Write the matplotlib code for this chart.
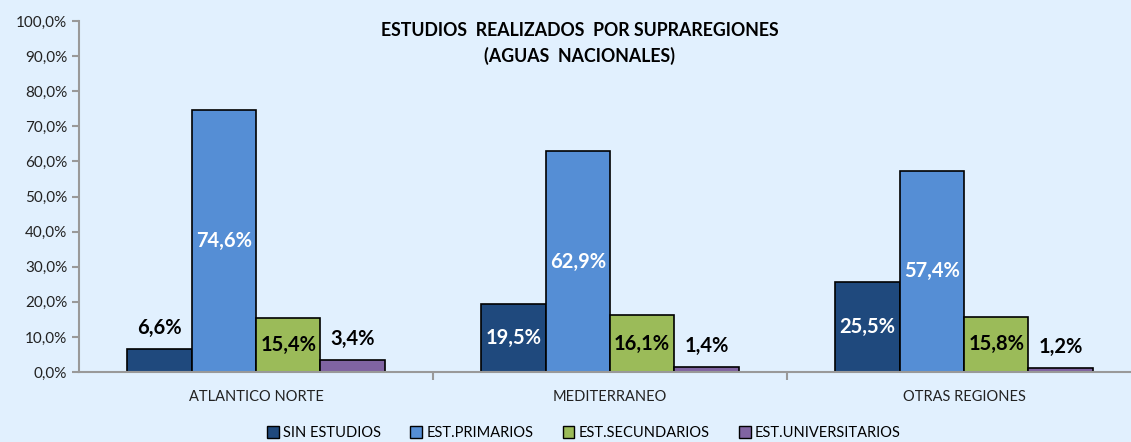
import numpy as np
import matplotlib
matplotlib.use("Agg")
import matplotlib.pyplot as plt

plt.rcParams['font.family'] = ['Lato', 'DejaVu Sans']

regiones = ["ATLANTICO NORTE", "MEDITERRANEO", "OTRAS REGIONES"]
series = ["SIN ESTUDIOS", "EST.PRIMARIOS", "EST.SECUNDARIOS", "EST.UNIVERSITARIOS"]
sin_estudios = [6.6, 19.5, 25.5]
primarios = [74.6, 62.9, 57.4]
secundarios = [15.4, 16.1, 15.8]
universitarios = [3.4, 1.4, 1.2]

colores = ["#1F497D", "#558ED5", "#9BBB59", "#8064A2"]
bg = "#E1F0FE"

fig = plt.figure(figsize=(11.31, 4.42), dpi=100, facecolor=bg)
ax = fig.add_axes((79 / 1131, 70 / 442, 1062 / 1131, 351 / 442))
ax.set_facecolor(bg)

valores = [sin_estudios, primarios, secundarios, universitarios]
x = np.arange(len(regiones)) + 0.5
w = 0.182
for i, (serie, vals) in enumerate(zip(series, valores)):
    pos = x + (i - 1.5) * w
    bars = ax.bar(pos, vals, w, color=colores[i], edgecolor="black", linewidth=1.2,
                  label=serie)
    for b, v in zip(bars, vals):
        txt = ('%.1f%%' % v).replace('.', ',')
        cx = b.get_x() + b.get_width() / 2
        if v > 12:
            col = "black" if i == 2 else "white"
            ax.text(cx, v / 2, txt, ha='center', va='center', fontsize=14.5,
                    fontweight='bold', color=col)
        else:
            ax.annotate(txt, (cx, v), xytext=(0, 15), textcoords='offset points',
                        ha='center', va='center', fontsize=14.5, fontweight='bold',
                        color="black")

ax.set_xlim(0, 3)
ax.set_ylim(0, 100)
ax.set_yticks(np.arange(0, 101, 10))
ax.set_yticklabels([('%.1f%%' % t).replace('.', ',') for t in range(0, 101, 10)],
                   fontsize=11, color="#222222")
ax.set_xticks([1, 2])
ax.set_xticklabels([])
ax.set_xticks(x, minor=True)
ax.set_xticklabels(regiones, minor=True, fontsize=10.5, color="#222222")
ax.tick_params(axis='x', which='minor', length=0, pad=13)
ax.tick_params(axis='x', which='major', length=6, width=1.5, color="#999999")
ax.tick_params(axis='y', length=5, width=1.5, color="#999999")
for s in ['top', 'right']:
    ax.spines[s].set_visible(False)
for s in ['left', 'bottom']:
    ax.spines[s].set_color("#999999")
    ax.spines[s].set_linewidth(1.5)

fig.text(580 / 1131, 1 - 31 / 442, "ESTUDIOS  REALIZADOS  POR SUPRAREGIONES",
         ha='center', va='center', fontsize=12.8, fontweight='bold')
fig.text(580 / 1131, 1 - 56 / 442, "(AGUAS  NACIONALES)",
         ha='center', va='center', fontsize=12.8, fontweight='bold')

leg = fig.legend(loc='center', bbox_to_anchor=(584 / 1131, 1 - 433 / 442), ncol=4,
                 frameon=False, fontsize=10.5, handlelength=0.8, handleheight=0.8,
                 handletextpad=0.3, columnspacing=2.0)
for h in leg.legend_handles:
    h.set_linewidth(1.0)

fig.savefig("out.png", dpi=100, facecolor=bg)
